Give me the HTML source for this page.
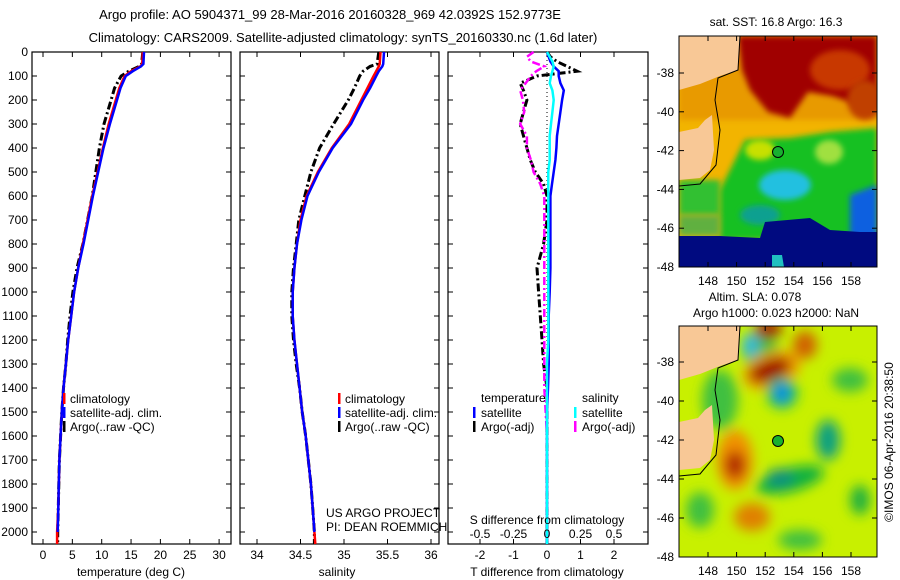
<!DOCTYPE html>
<html><head><meta charset="utf-8"><style>
html,body{margin:0;padding:0;background:#fff}
svg{display:block;font-family:"Liberation Sans",sans-serif}
</style></head><body>
<svg id="fig" width="900" height="580" viewBox="0 0 900 580">
<defs>
<filter id="bl" x="-50%" y="-50%" width="200%" height="200%"><feGaussianBlur stdDeviation="6"/></filter>
<filter id="bl2" x="-50%" y="-50%" width="200%" height="200%"><feGaussianBlur stdDeviation="3"/></filter>
<clipPath id="c1"><rect x="679" y="36" width="198" height="231"/></clipPath>
<clipPath id="c2"><rect x="679" y="326" width="198" height="231"/></clipPath>
</defs>
<text x="330" y="19" font-size="13" text-anchor="middle">Argo profile: AO 5904371_99 28-Mar-2016 20160328_969 42.0392S 152.9773E</text>
<text x="343" y="42" font-size="13" text-anchor="middle">Climatology: CARS2009. Satellite-adjusted climatology: synTS_20160330.nc (1.6d later)</text>
<g id="plots"></g>

<g id="maps">
<g clip-path="url(#c1)">
<rect x="679" y="36" width="198" height="231" fill="#f2b400"/>
<polygon points="679,36 877,36 877,120 679,120" fill="#e89a00" filter="url(#bl2)"/>
<polygon points="738,36 877,36 877,92 856,104 832,96 808,92 790,118 768,112 750,90 742,70" fill="#a00000" filter="url(#bl2)"/>
<ellipse cx="840" cy="70" rx="30" ry="20" fill="#c83800" filter="url(#bl2)"/>
<ellipse cx="865" cy="100" rx="18" ry="20" fill="#c04000" filter="url(#bl2)"/>
<polygon points="720,190 745,140 790,138 830,132 877,128 877,240 720,240" fill="#18c020" filter="url(#bl2)"/>
<ellipse cx="760" cy="150" rx="15" ry="10" fill="#c8e000" filter="url(#bl2)"/>
<ellipse cx="829" cy="152" rx="14" ry="12" fill="#a0e040" filter="url(#bl2)"/>
<ellipse cx="785" cy="185" rx="26" ry="15" fill="#20c0e0" filter="url(#bl2)"/>
<ellipse cx="760" cy="215" rx="20" ry="10" fill="#10a090" filter="url(#bl2)"/>
<polygon points="679,180 720,180 720,215 679,215" fill="#30c030" filter="url(#bl2)"/>
<polygon points="679,215 720,215 720,236 679,236" fill="#60b040" filter="url(#bl2)"/>
<polygon points="850,195 877,185 877,240 850,240" fill="#1060e0" filter="url(#bl2)"/>
<polygon points="765,222 810,218 830,230 860,232 877,232 877,267 679,267 679,236 720,236 760,238" fill="#000a80"/>
<polygon points="772,255 782,255 784,267 772,267" fill="#20c0c0"/>
<polygon points="679,36 740,36 738,70 720,76 700,84 679,90" fill="#f8c896"/>
<polygon points="679,132 698,128 705,120 712,115 714,150 710,170 700,178 679,180" fill="#f8c896"/>
<polyline points="740,36 738,70 718,78 715,100 720,130 716,165 700,184 679,186" fill="none" stroke="#000" stroke-width="1"/>
</g>
<rect x="679" y="36" width="198" height="231" fill="none" stroke="#000"/>
<circle cx="778" cy="152" r="5.5" fill="#18b030" stroke="#000"/>

<g clip-path="url(#c2)">
<rect x="679" y="326" width="198" height="231" fill="#c8f000"/>
<g filter="url(#bl)">
<ellipse cx="760" cy="350" rx="18" ry="18" fill="#30c040"/>
<ellipse cx="750" cy="345" rx="8" ry="12" fill="#30b8e0"/>
<ellipse cx="772" cy="370" rx="30" ry="18" fill="#f0a000" transform="rotate(-20 772 370)"/>
<ellipse cx="770" cy="370" rx="22" ry="11" fill="#a00000" transform="rotate(-20 770 370)"/>
<ellipse cx="768" cy="330" rx="14" ry="9" fill="#a01000"/>
<ellipse cx="805" cy="345" rx="12" ry="14" fill="#d06000"/>
<ellipse cx="782" cy="393" rx="16" ry="16" fill="#20c040"/>
<ellipse cx="782" cy="393" rx="9" ry="11" fill="#1090e0"/>
<ellipse cx="828" cy="440" rx="12" ry="20" fill="#10a080"/>
<ellipse cx="790" cy="480" rx="35" ry="12" fill="#10b040" transform="rotate(-15 790 480)"/>
<ellipse cx="780" cy="478" rx="14" ry="9" fill="#109080"/>
<ellipse cx="735" cy="460" rx="18" ry="30" fill="#f09000"/>
<ellipse cx="735" cy="465" rx="10" ry="14" fill="#b02000"/>
<ellipse cx="752" cy="517" rx="18" ry="14" fill="#e08000"/>
<ellipse cx="720" cy="400" rx="18" ry="30" fill="#40c040"/>
<ellipse cx="850" cy="380" rx="18" ry="12" fill="#40c040"/>
<ellipse cx="860" cy="500" rx="10" ry="15" fill="#20b040"/>
<ellipse cx="800" cy="540" rx="22" ry="10" fill="#40c040"/>
<ellipse cx="700" cy="510" rx="14" ry="18" fill="#40c040"/>
</g>
<polygon points="679,326 740,326 738,360 720,366 700,374 679,380" fill="#f8c896"/>
<polygon points="679,422 698,418 705,410 712,405 714,440 710,460 700,468 679,470" fill="#f8c896"/>
<polyline points="740,326 738,360 718,368 715,390 720,420 716,455 700,474 679,476" fill="none" stroke="#000" stroke-width="1"/>
</g>
<rect x="679" y="326" width="198" height="231" fill="none" stroke="#000"/>
<circle cx="778" cy="441" r="5.5" fill="#18b030" stroke="#000"/>
<text x="776" y="26" font-size="12" text-anchor="middle">sat. SST: 16.8 Argo: 16.3</text>
<text x="755" y="301" font-size="12" text-anchor="middle">Altim. SLA: 0.078</text>
<text x="776" y="317" font-size="12" text-anchor="middle">Argo h1000: 0.023 h2000: NaN</text>
<text x="893" y="442" font-size="12" text-anchor="middle" transform="rotate(-90 893 442)">©IMOS 06-Apr-2016 20:38:50</text>
</g>
<g id="mapticks"></g>
</svg>
<script>
// ---------- data ----------
const depths   = [0, 50, 60, 80, 100, 150, 200, 300, 400, 500, 600, 700, 800, 900, 1000, 1100, 1200, 1300, 1400, 1500, 1600, 1700, 1800, 1900, 2000, 2050];
const tempClim = [17.0, 16.9, 16.6, 15.0, 13.9, 13.0, 12.4, 11.2, 10.2, 9.3, 8.4, 7.6, 6.8, 6.0, 5.3, 4.8, 4.3, 3.9, 3.5, 3.2, 3.0, 2.8, 2.7, 2.6, 2.4, 2.4];
const tempSat  = [17.2, 17.1, 16.7, 15.3, 14.1, 13.2, 12.6, 11.4, 10.3, 9.4, 8.5, 7.7, 6.9, 6.0, 5.3, 4.8, 4.3, 3.9, 3.5, 3.2, 3.0, 2.8, 2.7, 2.6, 2.5, 2.5];
const tempArgo = [17.0, 16.8, 16.4, 14.6, 13.3, 12.2, 11.6, 10.4, 9.6, 9.0, 8.4, 7.6, 6.8, 5.8, 5.1, 4.6, 4.2, 3.9, 3.5, 3.2, 3.0, 2.8, 2.7, 2.6, 2.5, 2.5];
const salClim  = [35.42, 35.41, 35.40, 35.37, 35.34, 35.27, 35.20, 35.06, 34.86, 34.70, 34.57, 34.50, 34.46, 34.43, 34.41, 34.41, 34.43, 34.46, 34.49, 34.52, 34.56, 34.59, 34.62, 34.64, 34.66, 34.67];
const salSat   = [35.46, 35.45, 35.44, 35.40, 35.37, 35.30, 35.22, 35.08, 34.87, 34.71, 34.58, 34.51, 34.46, 34.43, 34.41, 34.41, 34.43, 34.46, 34.49, 34.52, 34.56, 34.59, 34.62, 34.64, 34.66, 34.66];
const salArgo  = [35.40, 35.38, 35.30, 35.22, 35.18, 35.12, 35.05, 34.88, 34.72, 34.62, 34.55, 34.48, 34.45, 34.42, 34.40, 34.40, 34.42, 34.45, 34.49, 34.52, 34.56, 34.59, 34.62, 34.64, 34.66, 34.66];
const dDepths  = [0, 20, 40, 60, 80, 100, 130, 160, 200, 250, 300, 350, 400, 450, 500, 550, 600, 700, 800, 900, 1000, 1100, 1200, 1300, 1400, 1500, 1600, 1700, 1800, 1900, 2000, 2050];
const dTSat    = [0.0, 0.05, 0.1, 0.2, 0.35, 0.35, 0.4, 0.5, 0.45, 0.4, 0.35, 0.3, 0.28, 0.25, 0.2, 0.15, 0.1, 0.1, 0.1, 0.1, 0.08, 0.05, 0.05, 0.05, 0.03, 0.0, 0.0, 0.0, 0.0, 0.0, 0.0, 0.0];
const dTArgo   = [0.0, 0.1, 0.3, 0.6, 0.9, -0.3, -0.8, -0.7, -0.6, -0.7, -0.8, -0.7, -0.6, -0.5, -0.35, -0.1, 0.0, 0.0, -0.1, -0.3, -0.25, -0.2, -0.15, -0.1, 0.0, 0.0, 0.0, 0.0, 0.0, 0.0, 0.0, 0.0];
const dSSat    = [0.0, 0.02, 0.04, 0.05, 0.04, 0.03, 0.02, 0.04, 0.05, 0.04, 0.03, 0.02, 0.02, 0.02, 0.01, 0.01, 0.01, 0.01, 0.01, 0.01, 0.01, 0.01, 0.01, 0.0, 0.0, 0.0, 0.0, 0.0, 0.0, 0.0, 0.0, 0.0];
const dSArgo   = [-0.1, -0.15, -0.12, -0.02, -0.08, -0.12, -0.16, -0.2, -0.18, -0.17, -0.2, -0.15, -0.15, -0.12, -0.1, -0.05, -0.02, -0.02, -0.02, -0.02, -0.02, -0.02, -0.02, -0.02, -0.02, -0.01, 0.0, 0.0, 0.0, 0.0, 0.0, 0.0];
const depthTicks = [0,100,200,300,400,500,600,700,800,900,1000,1100,1200,1300,1400,1500,1600,1700,1800,1900,2000];
const tTicks = [0,5,10,15,20,25,30];
const sTicks = [34,34.5,35,35.5,36];
const sTickLabels = ["34","34.5","35","35.5","36"];
const dtTicks = [-2,-1,0,1,2];
const dsTicks = [-0.5,-0.25,0,0.25,0.5];
const latTicks = [-38,-40,-42,-44,-46,-48];
const lonTicks = [148,150,152,154,156,158];

// ---------- helpers ----------
const NS = "http://www.w3.org/2000/svg";
const plots = document.getElementById('plots');
function mk(tag, attrs, parent, txt){
  const e = document.createElementNS(NS, tag);
  for (const k in attrs) e.setAttribute(k, attrs[k]);
  if (txt !== undefined) e.textContent = txt;
  (parent || plots).appendChild(e);
  return e;
}
const TOP = 52, BOT = 544;
const yD = d => TOP + d * 0.24;
const xT = t => 43 + t * 5.87;
const xS = s => 257 + (s - 34) * 87;
const xDT = v => 547 + v * 33.5;
const xDS = v => 547 + v * 134;

function frame(x0, x1, name){
  const r = mk('rect', {x:x0, y:TOP, width:x1-x0, height:BOT-TOP, fill:'none', stroke:'#000', 'stroke-width':1.2});
  
  
  depthTicks.forEach(d => {
    const y = yD(d);
    mk('line', {x1:x0, x2:x0+5, y1:y, y2:y, stroke:'#000'});
    mk('line', {x1:x1, x2:x1-5, y1:y, y2:y, stroke:'#000'});
  });
}
function line(xs, ds, xf, color, name, dash, w){
  const pts = xs.map((v,i) => xf(v).toFixed(1) + ',' + yD(ds[i]).toFixed(1)).join(' ');
  const a = {points:pts, fill:'none', stroke:color, 'stroke-width':w||2.5};
  if (dash) a['stroke-dasharray'] = dash;
  const p = mk('polyline', a);
  
  
}
function text(x, y, s, name, anchor, size){
  const t = mk('text', {x:x, y:y, 'font-size':size||12, 'text-anchor':anchor||'start'}, plots, s);
  
  
  return t;
}
function legendMark(x, y, color, name){
  const m = mk('rect', {x:x, y:y-10, width:2.5, height:11, fill:color});
  
  
}

// ---------- panel 1: temperature ----------
frame(32, 231, 'temperature-panel');
depthTicks.forEach(d => text(28, yD(d)+4, String(d), 'depth-tick-label', 'end'));
tTicks.forEach(t => {
  mk('line', {x1:xT(t), x2:xT(t), y1:BOT, y2:BOT-5, stroke:'#000'});
  mk('line', {x1:xT(t), x2:xT(t), y1:TOP, y2:TOP+5, stroke:'#000'});
  text(xT(t), 559, String(t), 'temperature-tick-label', 'middle');
});
text(131, 576, 'temperature (deg C)', 'temperature-axis-title', 'middle');
line(tempArgo, depths, xT, '#000', 'temperature-argo-line', '8,3,2,3', 3);
line(tempClim, depths, xT, '#f00', 'temperature-climatology-line');
line(tempSat.slice(0,-1), depths.slice(0,-1), xT, '#00f', 'temperature-satellite-line');
legendMark(63, 403, '#f00', 'legend-climatology-mark'); text(70, 403, 'climatology', 'legend-climatology');
legendMark(63, 417, '#00f', 'legend-satellite-mark'); text(70, 417, 'satellite-adj. clim.', 'legend-satellite');
legendMark(63, 431, '#000', 'legend-argo-mark'); text(70, 431, 'Argo(..raw -QC)', 'legend-argo');

// ---------- panel 2: salinity ----------
frame(240, 439, 'salinity-panel');
sTicks.forEach((s,i) => {
  mk('line', {x1:xS(s), x2:xS(s), y1:BOT, y2:BOT-5, stroke:'#000'});
  mk('line', {x1:xS(s), x2:xS(s), y1:TOP, y2:TOP+5, stroke:'#000'});
  text(xS(s), 559, sTickLabels[i], 'salinity-tick-label', 'middle');
});
text(337, 576, 'salinity', 'salinity-axis-title', 'middle');
line(salArgo, depths, xS, '#000', 'salinity-argo-line', '8,3,2,3', 3);
line(salClim, depths, xS, '#f00', 'salinity-climatology-line');
line(salSat.slice(0,-1), depths.slice(0,-1), xS, '#00f', 'salinity-satellite-line');
legendMark(338, 403, '#f00', 'legend-climatology-mark'); text(345, 403, 'climatology', 'legend-climatology');
legendMark(338, 417, '#00f', 'legend-satellite-mark'); text(345, 417, 'satellite-adj. clim.', 'legend-satellite');
legendMark(338, 431, '#000', 'legend-argo-mark'); text(345, 431, 'Argo(..raw -QC)', 'legend-argo');
text(326, 517, 'US ARGO PROJECT', 'project-label');
text(326, 531, 'PI: DEAN ROEMMICH', 'pi-label');

// ---------- panel 3: differences ----------
frame(448, 648, 'difference-panel');
mk('line', {x1:547, x2:547, y1:TOP, y2:BOT, stroke:'#000', 'stroke-dasharray':'1,3'});
dtTicks.forEach(v => {
  mk('line', {x1:xDT(v), x2:xDT(v), y1:BOT, y2:BOT-5, stroke:'#000'});
  mk('line', {x1:xDT(v), x2:xDT(v), y1:TOP, y2:TOP+5, stroke:'#000'});
  text(xDT(v), 559, String(v), 'dt-tick-label', 'middle');
});
text(547, 576, 'T difference from climatology', 'dt-axis-title', 'middle');
line(dTArgo, dDepths, xDT, '#000', 'dt-argo-line', '8,3,2,3', 3);
line(dSArgo, dDepths, xDS, '#f0f', 'ds-argo-line', '8,3,2,3', 2.5);
line(dTSat, dDepths, xDT, '#00f', 'dt-satellite-line');
line(dSSat, dDepths, xDS, '#0ff', 'ds-satellite-line');
text(547, 524, 'S difference from climatology', 'ds-axis-title', 'middle');
dsTicks.forEach(v => text(xDS(v), 538, String(v), 'ds-tick-label', 'middle'));
text(481, 402, 'temperature', 'legend-temperature-header');
legendMark(473, 417, '#00f', 'legend-dt-satellite-mark'); text(481, 417, 'satellite', 'legend-dt-satellite');
legendMark(473, 431, '#000', 'legend-dt-argo-mark'); text(481, 431, 'Argo(-adj)', 'legend-dt-argo');
text(582, 402, 'salinity', 'legend-salinity-header');
legendMark(574, 417, '#0ff', 'legend-ds-satellite-mark'); text(582, 417, 'satellite', 'legend-ds-satellite');
legendMark(574, 431, '#f0f', 'legend-ds-argo-mark'); text(582, 431, 'Argo(-adj)', 'legend-ds-argo');

// ---------- map ticks ----------
const mt = document.getElementById('mapticks');
const lonX = l => 708 + (l - 148) * 14.3;
[[36, 73, 19.4, false],[326, 362, 19.5, true]].forEach(([top, y38, sc, showLon]) => {
  const bot = top + 231;
  latTicks.forEach(l => {
    const y = y38 + (-38 - l) * sc;
    mk('line', {x1:679, x2:684, y1:y, y2:y, stroke:'#000'}, mt);
    mk('line', {x1:877, x2:872, y1:y, y2:y, stroke:'#000'}, mt);
    const t = mk('text', {x:674, y:y+4, 'font-size':12, 'text-anchor':'end'}, mt, String(l));
    
    
  });
  lonTicks.forEach(l => {
    const x = lonX(l);
    mk('line', {x1:x, x2:x, y1:top, y2:top+5, stroke:'#000'}, mt);
    mk('line', {x1:x, x2:x, y1:bot, y2:bot-5, stroke:'#000'}, mt);
    const t = mk('text', {x:x, y:bot+18, 'font-size':12, 'text-anchor':'middle'}, mt, String(l));
    
    
  });
});
</script>
</body></html>
